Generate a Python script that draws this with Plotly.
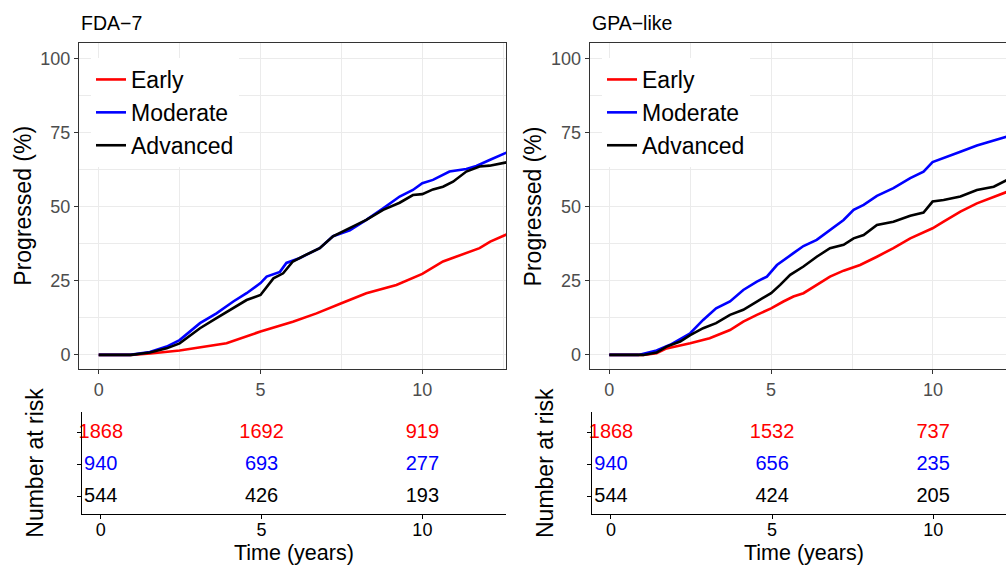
import plotly.graph_objects as go

W, H = 1006, 565

# ---------------- data ----------------
groups = ["Early", "Moderate", "Advanced"]
colors = {"Early": "#FF0000", "Moderate": "#0000FF", "Advanced": "#000000"}

# FDA-7 panel
fda_early_t = [0, 1.0, 1.6, 2.5, 3.95, 5.0, 6.0, 6.73, 7.5, 8.27, 9.2, 10.0, 10.64, 11.36, 11.77, 12.1, 12.6]
fda_early_y = [0, 0, 0.5, 1.5, 3.9, 7.9, 11.2, 14.0, 17.4, 20.8, 23.6, 27.3, 31.5, 34.3, 36.0, 38.2, 40.6]
fda_mod_t = [0, 0.97, 1.58, 2.1, 2.5, 3.13, 3.64, 4.16, 4.57, 5.0, 5.19, 5.6, 5.8, 6.2, 6.83, 7.24, 7.76, 8.27,
             8.79, 9.3, 9.71, 10.0, 10.33, 10.84, 11.36, 11.67, 12.08, 12.6]
fda_mod_y = [0, 0, 1.0, 2.8, 5.0, 10.7, 14.0, 18.0, 20.8, 24.2, 26.4, 28.0, 31.0, 32.6, 36.0, 40.0, 42.0, 45.5,
             49.4, 53.4, 55.6, 57.9, 59.0, 61.8, 62.7, 63.7, 65.7, 68.2]
fda_adv_t = [0, 1.0, 1.58, 2.1, 2.5, 3.13, 3.64, 4.16, 4.57, 5.0, 5.19, 5.4, 5.7, 6.0, 6.4, 6.83, 7.24, 7.76,
             8.27, 8.79, 9.3, 9.71, 10.0, 10.33, 10.64, 10.95, 11.36, 11.77, 12.08, 12.6]
fda_adv_y = [0, 0, 0.8, 2.2, 3.9, 9.0, 12.4, 15.7, 18.5, 20.2, 23.0, 25.8, 27.5, 31.5, 33.7, 36.0, 40.0, 42.7,
             45.5, 48.9, 51.3, 53.9, 54.2, 55.8, 56.7, 58.4, 61.8, 63.5, 63.8, 64.9]

# GPA-like panel
gpa_early_t = [0, 1.05, 1.46, 1.77, 2.5, 3.1, 3.73, 4.14, 4.56, 5.0, 5.38, 5.69, 6.0, 6.41, 6.82, 7.24, 7.75,
               8.27, 8.78, 9.3, 9.99, 10.33, 10.85, 11.36, 11.88, 12.3]
gpa_early_y = [0, 0, 0.6, 2.2, 3.9, 5.6, 8.4, 11.2, 13.5, 15.7, 18.0, 19.7, 20.8, 23.6, 26.4, 28.4, 30.3,
               33.1, 36.0, 39.3, 42.7, 44.9, 48.3, 51.1, 53.4, 55.0]
gpa_mod_t = [0, 0.9, 1.46, 1.88, 2.5, 2.9, 3.3, 3.73, 4.14, 4.56, 4.87, 5.18, 5.69, 6.0, 6.41, 6.82, 7.24,
             7.55, 7.86, 8.27, 8.78, 9.3, 9.71, 9.99, 10.33, 10.85, 11.36, 11.88, 12.3]
gpa_mod_y = [0, 0, 1.5, 3.4, 7.3, 11.8, 15.7, 18.0, 21.9, 24.7, 26.4, 30.3, 34.3, 36.7, 38.8, 42.1, 45.5,
             48.9, 50.6, 53.6, 56.2, 59.6, 61.8, 65.0, 66.3, 68.5, 70.6, 72.2, 73.6]
gpa_adv_t = [0, 1.05, 1.46, 1.77, 2.19, 2.5, 2.9, 3.3, 3.73, 4.14, 4.56, 5.0, 5.28, 5.59, 6.0, 6.41, 6.82,
             7.24, 7.55, 7.86, 8.27, 8.78, 9.3, 9.71, 9.99, 10.33, 10.85, 11.36, 11.88, 12.3]
gpa_adv_y = [0, 0, 0.8, 2.8, 4.5, 6.7, 9.0, 10.7, 13.5, 15.2, 18.0, 20.8, 23.6, 27.0, 29.8, 33.1, 36.0,
             37.1, 39.3, 40.4, 43.8, 44.9, 46.9, 48.0, 51.7, 52.2, 53.4, 55.6, 56.7, 59.0]

# Number at risk
risk_times = [0, 5, 10]
fda_risk = {"Early": [1868, 1692, 919], "Moderate": [940, 693, 277], "Advanced": [544, 426, 193]}
gpa_risk = {"Early": [1868, 1532, 737], "Moderate": [940, 656, 235], "Advanced": [544, 424, 205]}
risk_rows = {"Early": 3, "Moderate": 2, "Advanced": 1}

panel_titles = ["FDA\u22127", "GPA\u2212like"]
x_ticks = [0, 5, 10]
y_ticks = [0, 25, 50, 75, 100]

# ---------------- figure ----------------
FONT = "Liberation Sans, Arial, Helvetica, sans-serif"
fig = go.Figure()

curves = [
    ("x", "y", "legend", {"Early": (fda_early_t, fda_early_y), "Moderate": (fda_mod_t, fda_mod_y),
                          "Advanced": (fda_adv_t, fda_adv_y)}),
    ("x2", "y2", "legend2", {"Early": (gpa_early_t, gpa_early_y), "Moderate": (gpa_mod_t, gpa_mod_y),
                             "Advanced": (gpa_adv_t, gpa_adv_y)}),
]
for xa, ya, leg, data in curves:
    for g in groups:
        t, v = data[g]
        fig.add_trace(go.Scatter(x=t, y=v, mode="lines", name=g, xaxis=xa, yaxis=ya, legend=leg,
                                 line=dict(color=colors[g], width=2.6), hoverinfo="skip"))

for xa, ya, risk in [("x3", "y3", fda_risk), ("x4", "y4", gpa_risk)]:
    for g in groups:
        fig.add_trace(go.Scatter(x=risk_times, y=[risk_rows[g]] * len(risk_times), mode="text",
                                 text=[str(n) for n in risk[g]], textposition="middle center",
                                 textfont=dict(color=colors[g], size=20, family=FONT),
                                 xaxis=xa, yaxis=ya, showlegend=False, cliponaxis=False, hoverinfo="skip"))

def px_x(p):
    return p / W

def px_y(p):
    return (H - p) / H

main_y_dom = [px_y(369), px_y(43)]
risk_y_dom = [px_y(513.5), px_y(412.3)]

main_common = dict(showline=True, linecolor="#333333", linewidth=1, ticks="outside", ticklen=4,
                   tickcolor="#333333", tickwidth=1, tickfont=dict(size=18, color="#4D4D4D", family=FONT),
                   showgrid=True, gridcolor="#EBEBEB", gridwidth=1.1, zeroline=False)
risk_x_common = dict(showline=True, linecolor="black", linewidth=1.2, ticks="outside", ticklen=4,
                     tickcolor="black", tickfont=dict(size=18, color="black", family=FONT),
                     ticklabelstandoff=-4, showgrid=False, zeroline=False)
risk_y_common = dict(range=[0.48, 3.63], tickvals=[1, 2, 3], showticklabels=False, showline=True,
                     linecolor="black", linewidth=1.2, ticks="outside", ticklen=4, tickcolor="black",
                     showgrid=False, zeroline=False)
minor_x = dict(tickvals=[2.5, 7.5, 12.5], showgrid=True, gridcolor="#EBEBEB", gridwidth=0.55, ticks="")
minor_y = dict(tickvals=[12.5, 37.5, 62.5, 87.5], showgrid=True, gridcolor="#EBEBEB", gridwidth=0.55, ticks="")

fig.update_layout(
    width=W, height=H, margin=dict(l=0, r=0, t=0, b=0),
    paper_bgcolor="white", plot_bgcolor="white",
    font=dict(family=FONT, color="black"),
    xaxis=dict(domain=[px_x(79), px_x(506.3)], anchor="y", range=[-0.609, 12.596], tickvals=x_ticks,
               mirror=True, minor=minor_x, **main_common),
    yaxis=dict(domain=main_y_dom, anchor="x", range=[-4.75, 105.15], tickvals=y_ticks, mirror=True,
               minor=minor_y, **main_common),
    xaxis2=dict(domain=[px_x(589.7), 1.0], anchor="y2", range=[-0.606, 12.259], tickvals=x_ticks,
                mirror=True, minor=minor_x, **main_common),
    yaxis2=dict(domain=main_y_dom, anchor="x2", range=[-4.75, 105.15], tickvals=y_ticks, mirror=False,
                minor=minor_y, **main_common),
    xaxis3=dict(domain=[px_x(81.8), px_x(506)], anchor="y3", range=[-0.59, 12.6], tickvals=x_ticks,
                **risk_x_common),
    yaxis3=dict(domain=risk_y_dom, anchor="x3", **risk_y_common),
    xaxis4=dict(domain=[px_x(592.3), 1.0], anchor="y4", range=[-0.58, 12.26], tickvals=x_ticks,
                **risk_x_common),
    yaxis4=dict(domain=risk_y_dom, anchor="x4", **risk_y_common),
    legend=dict(x=px_x(91), y=px_y(58), xanchor="left", yanchor="top", bgcolor="white", borderwidth=0,
                font=dict(size=23, color="black", family=FONT), itemwidth=30),
    legend2=dict(x=px_x(602), y=px_y(58), xanchor="left", yanchor="top", bgcolor="white", borderwidth=0,
                 font=dict(size=23, color="black", family=FONT), itemwidth=30),
    showlegend=True,
)

annotations = []
for title, left in zip(panel_titles, [79, 590]):
    annotations.append(dict(text=title, x=px_x(left), y=px_y(23.3), xref="paper", yref="paper",
                            xanchor="left", yanchor="middle", showarrow=False,
                            font=dict(size=19.5, color="black", family=FONT)))
for cx in [22.7, 533.4]:
    annotations.append(dict(text="Progressed (%)", x=px_x(cx), y=px_y(206), xref="paper", yref="paper",
                            xanchor="center", yanchor="middle", textangle=-90, showarrow=False,
                            font=dict(size=23, color="black", family=FONT)))
for cx in [34.7, 545]:
    annotations.append(dict(text="Number at risk", x=px_x(cx), y=px_y(463), xref="paper", yref="paper",
                            xanchor="center", yanchor="middle", textangle=-90, showarrow=False,
                            font=dict(size=23, color="black", family=FONT)))
for cx in [293.7, 803.5]:
    annotations.append(dict(text="Time (years)", x=px_x(cx), y=px_y(553), xref="paper", yref="paper",
                            xanchor="center", yanchor="middle", showarrow=False,
                            font=dict(size=21.5, color="black", family=FONT)))
fig.update_layout(annotations=annotations)

fig.write_html("out.html")
